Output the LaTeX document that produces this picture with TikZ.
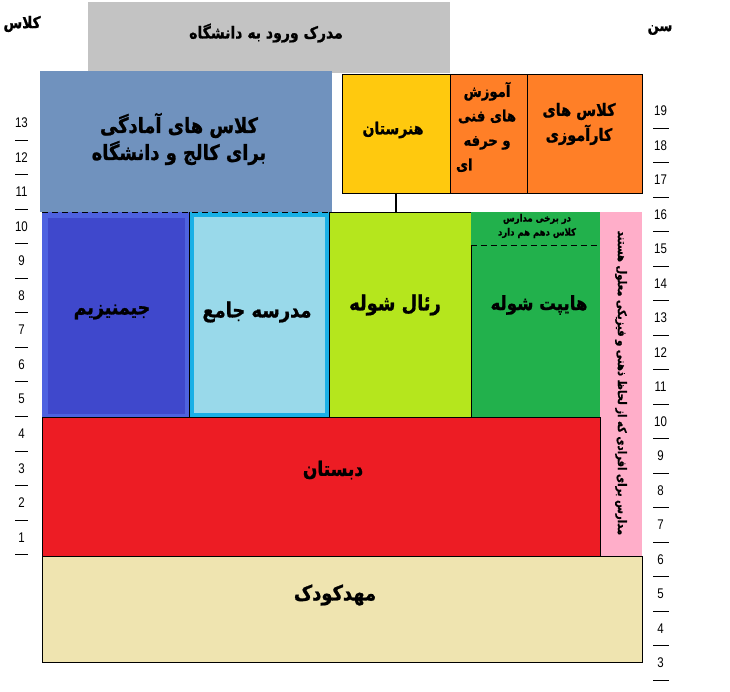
\documentclass[tikz,border=0pt]{standalone}
\usepackage{fontspec}
\setmainfont{Liberation Sans}
\newfontfamily\fa[Script=Arabic, FakeStretch=0.85, FakeBold=1]{DejaVu Sans}
\newfontfamily\numf[FakeStretch=0.82]{Liberation Sans}
\TeXXeTstate=1
\usetikzlibrary{fit}
\definecolor{cgrey}{HTML}{C3C3C3}
\definecolor{csteel}{HTML}{7092BE}
\definecolor{cyellow}{HTML}{FFC90E}
\definecolor{corange}{HTML}{FF7F27}
\definecolor{cgymo}{HTML}{4E62E0}
\definecolor{cgym}{HTML}{3F48CC}
\definecolor{ccyan}{HTML}{1AB0E6}
\definecolor{cjame}{HTML}{99D9EA}
\definecolor{creal}{HTML}{B5E61D}
\definecolor{chaupt}{HTML}{22B14C}
\definecolor{cpink}{HTML}{FFAEC9}
\definecolor{cred}{HTML}{ED1C24}
\definecolor{cbeige}{HTML}{EFE4B0}
\tikzset{
  box/.style={draw=black, line width=0.8pt, inner sep=0pt, outer sep=0pt},
  flat/.style={draw=none, inner sep=0pt, outer sep=0pt},
  lbl/.style={inner sep=0pt, text=black, align=center},
  fs/.style 2 args={font=\fa\bfseries\fontsize{#1}{#2}\selectfont},
  num/.style={inner sep=0pt, font=\numf\fontsize{14}{16}\selectfont},
  tickline/.style={line width=0.9pt, black},
  dashline/.style={line width=0.8pt, black, dash pattern=on 6pt off 4pt}
}
\begin{document}
\begin{tikzpicture}[x=1pt,y=-1pt]
\useasboundingbox (0,0) rectangle (730,692);
% top boxes
\node[flat, fill=cgrey, fit={(88,2) (450,73)}] (grey) {};
\node[flat, fill=csteel, fit={(40,71) (332,212)}] (steel) {};
\node[box, fill=cyellow, fit={(342,74) (450,193)}] (yellow) {};
\node[box, fill=corange, fit={(450,74) (527,193)}] (tech) {};
\node[box, fill=corange, fit={(527,74) (642,193)}] (train) {};
% second row
\node[flat, fill=cgymo, fit={(42,212) (189,417)}] (gymo) {};
\node[flat, fill=cgym, fit={(48,218) (185,414)}] (gym) {};
\node[flat, fill=ccyan, fit={(189,212) (329,417)}] (jameo) {};
\node[flat, fill=cjame, fit={(194,217) (325,413)}] (jame) {};
\draw[line width=0.8pt] (gymo.north east) -- (gymo.south east);
\draw[line width=0.8pt] (jameo.north east) -- (jameo.south east);
\node[box, fill=creal, fit={(329,212) (471,417)}] (real) {};
\node[flat, fill=chaupt, fit={(471,212) (600,417)}] (haupt) {};
\coordinate (hdl) at (471,245);
\coordinate (hdr) at (600,245);
\draw[line width=0.8pt] (hdl) -- (haupt.south west) -- (haupt.south east) -- (hdr);
\draw[dashline] (hdl) -- (hdr);
\draw[dashline] (gymo.north west) -- (steel.south east);
\node[flat, fill=cpink, fit={(600,212) (642,556)}] (pink) {};
\node[box, fill=cred, fit={(42,417) (600,556)}] (red) {};
\node[box, fill=cbeige, fit={(42,556) (642,662)}] (beige) {};
% connector
\draw[line width=2.6pt] (yellow.south) -- (yellow.south |- real.north);
% labels
\node[lbl, fs={16.5}{18}] (tgrey) at (266,33) {\beginR مدرک ورود به دانشگاه\endR};
\node[lbl, fs={21}{27}] (tsteel) at (179,139) {\beginR کلاس های آمادگی\endR\\ \beginR برای کالج و دانشگاه\endR};
\node[lbl, fs={16.5}{18}] (tyellow) at (393,130) {\beginR هنرستان\endR};
\node[lbl, fs={15.5}{24.5}] (ttech) at (487,127) {\beginR آموزش\endR\\ \beginR های فنی\endR\\ \beginR و حرفه\endR\\ \makebox[62pt][l]{\beginR ای\endR}};
\node[lbl, fs={17}{25}] (ttrain) at (579,124) {\beginR کلاس های\endR\\ \beginR کارآموزی\endR};
\node[lbl, fs={20.5}{22}] (tgym) at (112,312) {\beginR جیمنیزیم\endR};
\node[lbl, fs={21}{22}] (tjame) at (257,312) {\beginR مدرسه جامع\endR};
\node[lbl, fs={21}{22}] (treal) at (395,305) {\beginR رئال شوله\endR};
\node[lbl, fs={19.5}{22}] (thaupt) at (539,305) {\beginR هایپت شوله\endR};
\node[lbl, fs={10}{14}] (tsome) at (537,226) {\beginR در برخی مدارس\endR\\ \beginR کلاس دهم هم دارد\endR};
\node[lbl, fs={20}{22}] (tred) at (333,470) {\beginR دبستان\endR};
\node[lbl, fs={21}{22}] (tbeige) at (335,595) {\beginR مهدکودک\endR};
\node[lbl, fs={11.8}{13}, rotate=-90] (tpink) at (621,383) {\beginR مدارس برای افرادی که از لحاظ ذهنی و فیزیکی معلول هستند\endR};
\node[lbl, fs={16}{18}] (tclass) at (22,24) {\beginR کلاس\endR};
\node[lbl, fs={15.5}{18}] (tage) at (660,30) {\beginR سن\endR};
% left axis
\foreach \k in {0,...,12} \draw[tickline] (15,{140+34.55*\k}) -- (28,{140+34.55*\k});
\foreach \n [count=\k from 0] in {13,12,...,1} \node[num] (L\n) at (21.5,{122.7+34.55*\k}) {\n};
% right axis
\foreach \k in {0,...,16} \draw[tickline] (653,{128+34.5*\k}) -- (669,{128+34.5*\k});
\foreach \n [count=\k from 0] in {19,18,...,3} \node[num] (R\n) at (660.5,{110.75+34.5*\k}) {\n};
\end{tikzpicture}
\end{document}
